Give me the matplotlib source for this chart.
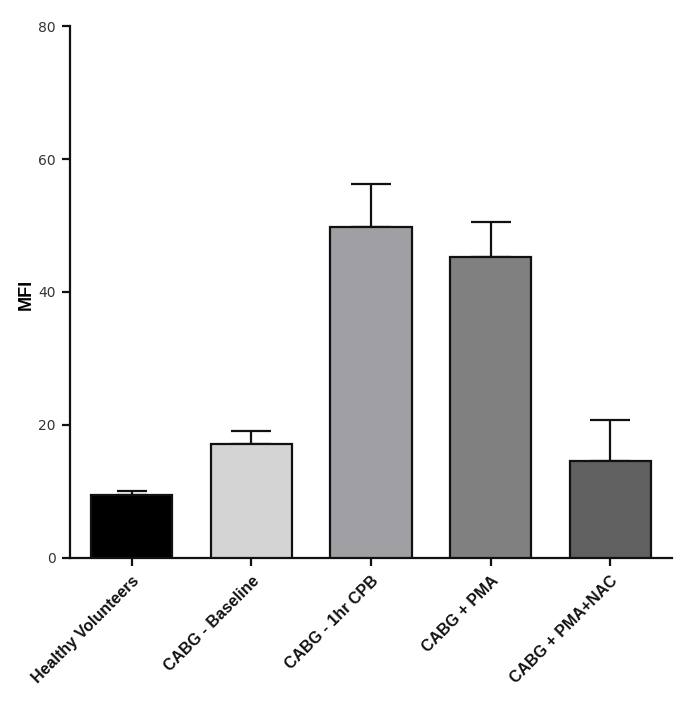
import matplotlib
matplotlib.use("Agg")
import matplotlib.pyplot as plt
import matplotlib.transforms as mtransforms
import numpy as np

categories = ["Healthy Volunteers", "CABG - Baseline", "CABG - 1hr CPB", "CABG + PMA", "CABG + PMA+NAC"]
means = [9.5, 17.1, 49.8, 45.2, 14.6]
errors = [0.6, 2.0, 6.5, 5.3, 6.2]
colors = ["#000000", "#d4d4d4", "#a0a0a4", "#808080", "#606060"]
yticks = [0, 20, 40, 60, 80]

plt.rcParams['font.family'] = ['Liberation Sans', 'DejaVu Sans']

fig = plt.figure(figsize=(6.85, 7.03), dpi=100)
ax = fig.add_axes([0.102, 0.2063, 0.879, 0.7567])

x = np.arange(len(categories))
ax.bar(x, means, width=0.68, color=colors, edgecolor="#111111", linewidth=1.6, zorder=3)
caps = [11, 14.4, 14.4, 14.4, 14.4]
for xi, m, e, c in zip(x, means, errors, caps):
    ax.errorbar(xi, m, yerr=[[0], [e]], fmt='none', ecolor="#111111", elinewidth=1.6,
                capsize=c, capthick=1.6, zorder=2)

ax.set_xlim(-0.516, 4.516)
ax.set_ylim(0, 80)
ax.set_yticks(yticks)
ax.set_yticklabels([str(t) for t in yticks], fontfamily='DejaVu Sans', fontsize=10, color='#333333')
ax.set_xticks(x)
ax.set_xticklabels(categories, rotation=45, ha='right', rotation_mode='anchor',
                   fontsize=11.5, fontweight='bold', color='#111111')
offset = mtransforms.ScaledTranslation(-0.06, 0.0, fig.dpi_scale_trans)
for lab in ax.get_xticklabels():
    lab.set_transform(lab.get_transform() + offset)
ax.tick_params(axis='y', length=6, width=1.6, direction='out', color='#111111', pad=4)
ax.tick_params(axis='x', length=6, width=1.6, direction='out', color='#111111', pad=4.8)
for s in ['top', 'right']:
    ax.spines[s].set_visible(False)
for s in ['left', 'bottom']:
    ax.spines[s].set_linewidth(1.6)
    ax.spines[s].set_color('#111111')
ax.set_ylabel("MFI", fontsize=13, fontweight='bold')
ax.yaxis.set_label_coords(-0.058, 0.495)

fig.savefig("out.png", dpi=100)
